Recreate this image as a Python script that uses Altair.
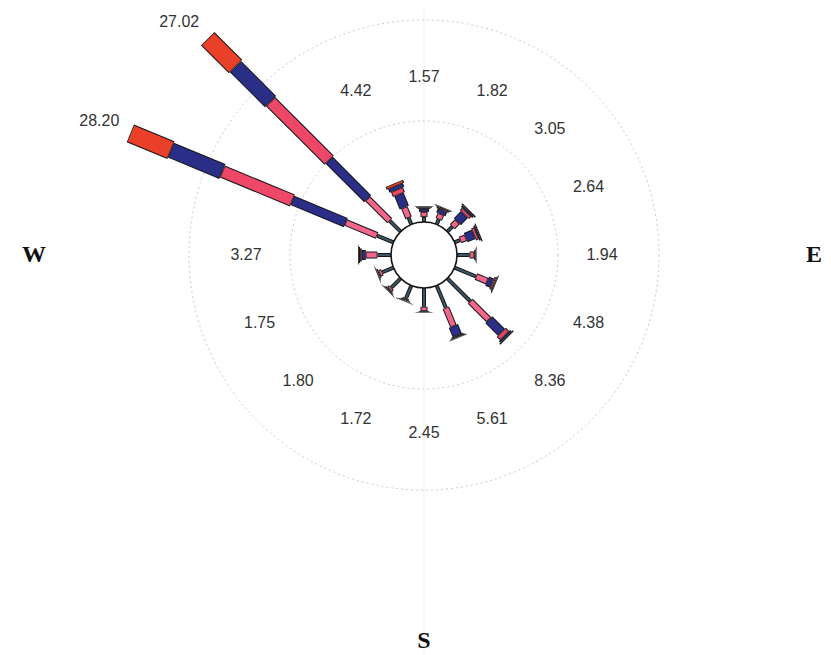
import altair as alt
import pandas as pd

# ---- data (percent of time) ----
directions = ["N", "NNE", "NE", "ENE", "E", "ESE", "SE", "SSE",
              "S", "SSW", "SW", "WSW", "W", "WNW", "NW", "NNW"]
angles = [0.0, 22.5, 45.0, 67.5, 90.0, 112.5, 135.0, 157.5,
          180.0, 202.5, 225.0, 247.5, 270.0, 292.5, 315.0, 337.5]
totals = [1.57, 1.82, 3.05, 2.64, 1.94, 4.38, 8.36, 5.61,
          2.45, 1.72, 1.80, 1.75, 3.27, 28.20, 27.02, 4.42]

class1 = [0.50, 0.55, 0.70, 0.60, 1.25, 2.30, 3.21, 2.39, 1.86, 1.35, 1.30, 1.20, 1.35, 1.77, 1.52, 0.72]
class2 = [0.50, 0.55, 0.70, 0.60, 0.45, 1.20, 2.60, 1.95, 0.42, 0.15, 0.25, 0.30, 1.15, 3.35, 3.10, 1.10]
class3 = [0.30, 0.40, 1.00, 0.85, 0.12, 0.50, 1.75, 1.00, 0.08, 0.10, 0.12, 0.12, 0.40, 5.72, 5.40, 1.40]
class4 = [0.12, 0.15, 0.30, 0.30, 0.06, 0.20, 0.45, 0.12, 0.04, 0.05, 0.06, 0.06, 0.17, 7.50, 8.20, 0.50]
class5 = [0.10, 0.10, 0.20, 0.17, 0.04, 0.10, 0.20, 0.09, 0.03, 0.04, 0.04, 0.04, 0.12, 5.52, 4.90, 0.40]
class6 = [0.05, 0.07, 0.15, 0.12, 0.02, 0.08, 0.15, 0.06, 0.02, 0.03, 0.03, 0.03, 0.08, 4.34, 3.90, 0.30]

classes = ["c1", "c2", "c3", "c4", "c5", "c6"]
grid_levels = [10, 20]
compass = ["W", "E", "S"]
compass_angles = [270.0, 90.0, 180.0]

# ---- styles ----
class_colors = ["#3e5666", "#f2668a", "#2b2e86", "#ef4767", "#2b2e86", "#ea3f28"]
HUB = 33      # px radius of the calm circle
K = 10.1      # px per percent
LAB_R = 178   # px radius of the ring of percentage labels

series = [class1, class2, class3, class4, class5, class6]
rows = []
for i, d in enumerate(directions):
    for k, s in enumerate(series):
        rows.append({"dir": d, "angle": angles[i], "cls": classes[k],
                     "order": k + 1, "value": s[i]})
seg_df = pd.DataFrame(rows)
lab_df = pd.DataFrame({"dir": directions, "angle": angles, "total": totals})
grid_df = pd.DataFrame({"level": grid_levels})
comp_df = pd.DataFrame({"name": compass, "angle": compass_angles})
center_df = pd.DataFrame({"cx": [0.0], "cy": [0.0]})

xs = alt.Scale(domain=[-416, 399], nice=False, zero=False)
ys = alt.Scale(domain=[-400, 247], nice=False, zero=False)


def XY(xf, yf):
    return dict(x=alt.X(xf, scale=xs, axis=None), y=alt.Y(yf, scale=ys, axis=None))


base = alt.Chart(seg_df).transform_stack(
    stack="value", groupby=["dir"], as_=["r0", "r1"],
    sort=[alt.SortField("order", order="ascending")]
).transform_calculate(
    rad="datum.angle*PI/180",
    p0=f"{HUB}+{K}*datum.r0",
    p1=f"{HUB}+{K}*datum.r1",
    w="3*datum.order-1",
)

under = base.transform_calculate(
    x0="datum.p0*sin(datum.rad)", y0="datum.p0*cos(datum.rad)",
    x1="datum.p1*sin(datum.rad)", y1="datum.p1*cos(datum.rad)",
    wb="datum.w+2",
).mark_rule(strokeCap="butt", color="#151515").encode(
    **XY("x0:Q", "y0:Q"), x2="x1:Q", y2="y1:Q",
    size=alt.Size("wb:Q", scale=None, legend=None),
)

top = base.transform_calculate(
    q0="datum.p0+0.7", q1="datum.p1-0.7"
).transform_filter("datum.q1 > datum.q0").transform_calculate(
    x0="datum.q0*sin(datum.rad)", y0="datum.q0*cos(datum.rad)",
    x1="datum.q1*sin(datum.rad)", y1="datum.q1*cos(datum.rad)",
).mark_rule(strokeCap="butt").encode(
    **XY("x0:Q", "y0:Q"), x2="x1:Q", y2="y1:Q",
    size=alt.Size("w:Q", scale=None, legend=None),
    color=alt.Color("cls:N", scale=alt.Scale(domain=classes, range=class_colors), legend=None),
)

vline = alt.Chart(center_df).mark_rule(color="#efefef", strokeWidth=1).encode(
    x=alt.X("cx:Q", scale=xs, axis=None)
)

grid = alt.Chart(grid_df).transform_calculate(
    gs=f"pow(2*({HUB}+{K}*datum.level),2)", cx="0", cy="0"
).mark_point(shape="circle", filled=False, stroke="#c8c8c8", strokeWidth=1,
             strokeDash=[2, 3], opacity=1).encode(
    **XY("cx:Q", "cy:Q"), size=alt.Size("gs:Q", scale=None, legend=None)
)

hub = alt.Chart(center_df).mark_point(
    shape="circle", filled=True, fill="white", stroke="#151515",
    strokeWidth=1.6, size=(2 * HUB) ** 2, opacity=1
).encode(**XY("cx:Q", "cy:Q"))

lab_base = alt.Chart(lab_df).transform_calculate(
    rad="datum.angle*PI/180",
    tip=f"{HUB}+{K}*datum.total",
    txt="format(datum.total, '.2f')",
)

# labels on the ring for the short bars
labels_ring = lab_base.transform_filter(f"datum.tip + 38 <= {LAB_R}").transform_calculate(
    lx=f"{LAB_R}*sin(datum.rad)", ly=f"{LAB_R}*cos(datum.rad)",
).mark_text(font="Liberation Sans", fontSize=16, color="#333333",
            align="center", baseline="middle").encode(
    **XY("lx:Q", "ly:Q"), text="txt:N"
)

# labels just beyond the tip of the long bars
labels_tip = lab_base.transform_filter(f"datum.tip + 38 > {LAB_R}").transform_calculate(
    lx="(datum.tip+12)*sin(datum.rad)", ly="(datum.tip+12)*cos(datum.rad)",
).mark_text(font="Liberation Sans", fontSize=16, color="#333333",
            align="right", baseline="bottom").encode(
    **XY("lx:Q", "ly:Q"), text="txt:N"
)

comp = alt.Chart(comp_df).transform_calculate(
    rad="datum.angle*PI/180",
    cx="390*sin(datum.rad)", cy="386*cos(datum.rad)",
).mark_text(font="Liberation Serif", fontSize=24, fontWeight="bold",
            color="#111111", align="center", baseline="middle").encode(
    **XY("cx:Q", "cy:Q"), text="name:N"
)

chart = alt.layer(vline, grid, under, top, hub, labels_ring, labels_tip, comp).properties(
    width=815, height=647, padding=0,
    autosize=alt.AutoSizeParams(type="none"),
).configure_view(stroke=None)

chart.save("out.html", embed_options={"renderer": "svg", "actions": False})
